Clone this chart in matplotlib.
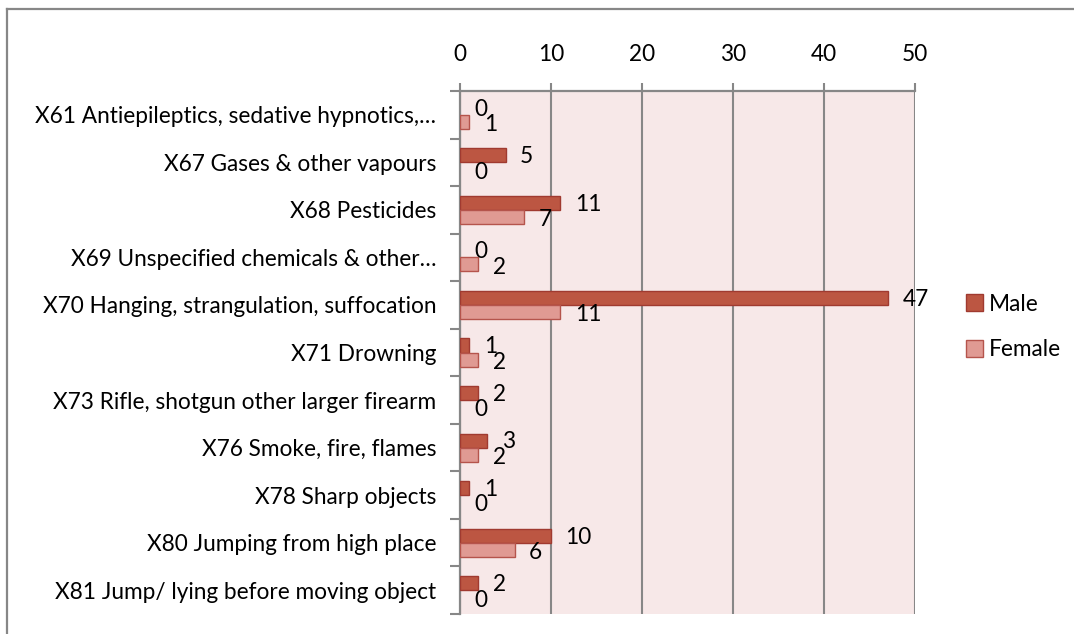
import matplotlib
matplotlib.use('Agg')
import matplotlib.pyplot as plt
from matplotlib.lines import Line2D
import matplotlib.patches as mpatches
import numpy as np

plt.rcParams['font.family'] = ['Lato', 'DejaVu Sans']

# ── Data ──────────────────────────────────────────────────────────────────
categories = [
    "X61 Antiepileptics, sedative hypnotics,…",
    "X67 Gases & other vapours",
    "X68 Pesticides",
    "X69 Unspecified chemicals & other…",
    "X70 Hanging, strangulation, suffocation",
    "X71 Drowning",
    "X73 Rifle, shotgun other larger firearm",
    "X76 Smoke, fire, flames",
    "X78 Sharp objects",
    "X80 Jumping from high place",
    "X81 Jump/ lying before moving object",
]
male = [0, 5, 11, 0, 47, 1, 2, 3, 1, 10, 2]
female = [1, 0, 7, 2, 11, 2, 0, 2, 0, 6, 0]
x_ticks = [0, 10, 20, 30, 40, 50]

male_col, male_edge = '#BC5642', '#A03A30'
fem_col, fem_edge = '#E09A93', '#B5544C'
grey = '#878787'
fs = 16.3

W, H = 1074, 634
fig = plt.figure(figsize=(W / 100, H / 100), dpi=100)

# outer chart border (only top and left visible)
fig.add_artist(Line2D([7 / W, 1.0], [1 - 9 / H, 1 - 9 / H], color=grey, lw=1.6,
                      transform=fig.transFigure))
fig.add_artist(Line2D([7 / W, 7 / W], [0, 1 - 9 / H], color=grey, lw=1.6,
                      transform=fig.transFigure))

ax = fig.add_axes([460 / W, 1 - 614 / H, 455 / W, 523 / H])
ax.set_facecolor('#F7E8E8')

y = np.arange(len(categories))
h = 0.295
ax.barh(y - h / 2, male, height=h, color=male_col, edgecolor=male_edge,
        lw=[1 if v > 0 else 0 for v in male], zorder=3)
ax.barh(y + h / 2, female, height=h, color=fem_col, edgecolor=fem_edge,
        lw=[1 if v > 0 else 0 for v in female], zorder=3)

for i in range(len(categories)):
    ax.annotate(str(male[i]), xy=(male[i], y[i] - h / 2), xytext=(10.5, -1),
                textcoords='offset points', ha='left', va='center', fontsize=fs, zorder=4)
    ax.annotate(str(female[i]), xy=(female[i], y[i] + h / 2), xytext=(10.5, -2),
                textcoords='offset points', ha='left', va='center', fontsize=fs, zorder=4)

ax.set_xlim(0, 50)
ax.set_ylim(len(categories) - 0.5, -0.5)
ax.set_xticks(x_ticks)
ax.xaxis.tick_top()
ax.tick_params(axis='x', top=True, bottom=False, labeltop=True, labelbottom=False,
               length=6, width=1.5, color=grey, labelsize=fs, pad=13)
ax.grid(axis='x', color=grey, lw=1.5, zorder=1)

ax.set_yticks(y)
ax.set_yticklabels(categories)
ax.tick_params(axis='y', which='major', length=0, labelsize=fs, pad=17)
ax.set_yticks(np.arange(len(categories) + 1) - 0.5, minor=True)
ax.tick_params(axis='y', which='minor', length=7, width=1.5, color=grey)

for s in ['bottom', 'right']:
    ax.spines[s].set_visible(False)
for s in ['top', 'left']:
    ax.spines[s].set_color(grey)
    ax.spines[s].set_linewidth(1.6)

handles = [
    mpatches.Patch(facecolor=male_col, edgecolor=male_edge, label='Male'),
    mpatches.Patch(facecolor=fem_col, edgecolor=fem_edge, label='Female'),
]
fig.legend(handles=handles, loc='center left', bbox_to_anchor=(966 / W, 1 - 327 / H),
           frameon=False, fontsize=fs, handlelength=0.75, handleheight=0.75,
           handletextpad=0.25, labelspacing=1.1, borderaxespad=0, borderpad=0)

fig.savefig('out.png', dpi=100)
